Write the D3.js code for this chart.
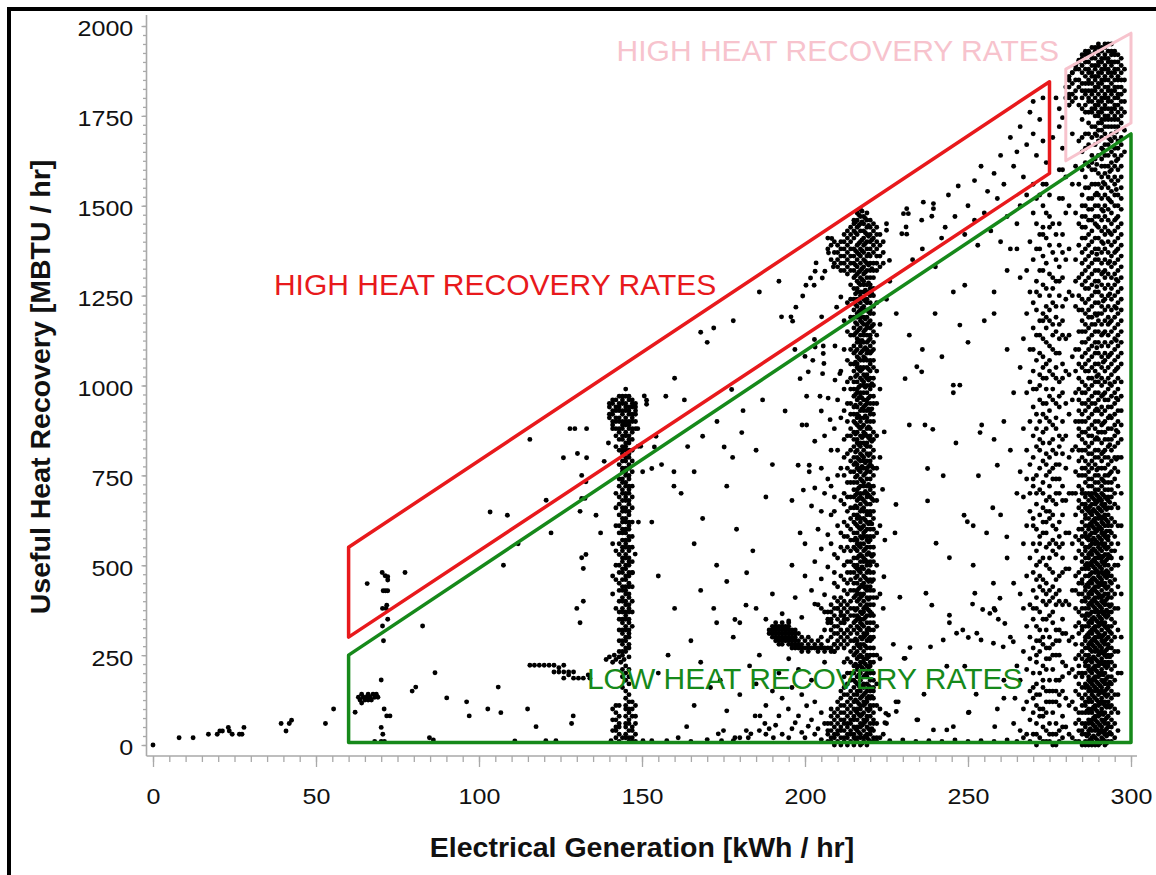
<!DOCTYPE html>
<html><head><meta charset="utf-8">
<script src="https://cdn.jsdelivr.net/npm/d3@7"></script>
<style>body{margin:0;background:#fff}svg{display:block}</style>
</head><body>
<svg id="chart" width="1156" height="875"></svg>
<script>
// ---------------- DATA ----------------
const xTickValues = [0, 50, 100, 150, 200, 250, 300];
const yTickValues = [0, 250, 500, 750, 1000, 1250, 1500, 1750, 2000];
const xTitle = "Electrical Generation [kWh / hr]";
const yTitle = "Useful Heat Recovery [MBTU / hr]";

// region outlines (data coordinates: kWh/hr, MBTU/hr)
const redBox = [[60,550],[275,1845],[275,1590],[60,300]];
const greenBox = [[60,250],[300,1700],[300,7],[60,7]];
const pinkBox = [[280,1625],[280,1880],[300,1980],[300,1730]];
const annoText = ["HIGH HEAT RECOVERY RATES","HIGH HEAT RECOVERY RATES","LOW HEAT RECOVERY RATES"];
const annoAt = [[37.1,1251],[142.2,1904],[133.1,157]];

// scattered points [kWh/hr, MBTU/hr]
const sparseLow = [[0,0],[8,20],[12.3,20],[17,30],[19.7,30],[20.5,39],[21.3,39],[23.1,49],[23.4,39],[24.3,30],[26.5,30],[27.3,30],[27.9,49],[39.3,60],[40.8,39],[41.8,60],[42.5,69],[52.9,60],[55.4,100],[62,91],[70,181],[70.9,100],[71.7,81],[70,49],[70.5,30],[68,10],[70,10],[71,10],[84.8,20],[86,14],[65.7,449],[70.3,480],[71.2,471],[72,468],[72,459],[77.3,480],[70.6,429],[71.3,429],[72,429],[71.7,389],[70.4,380],[71.5,380],[72,350],[70.4,331],[82.7,331],[70.7,290],[86.5,201],[80.6,161],[79.5,150],[90.1,131],[96.2,120],[102.7,100],[105.9,161],[97,81],[72.7,81],[63,133],[63.5,125],[64,141],[64.5,133],[65,125],[65.5,133],[66,141],[66.5,133],[67,125],[67.5,141],[68,133],[68.5,141],[69,133],[66,125],[64,117],[106.7,90],[114.9,100],[117.5,51],[111,11],[120.5,12],[123.6,12],[128.4,60],[128.9,81],[140.5,12]];

const redLeft = [[103.4,648],[108.7,639],[107.5,500],[115.6,850],[120.6,681],[122.1,590],[125.9,799],[127.9,880],[129.4,880],[133,880],[130.2,811],[133,799],[131.5,750],[132.8,732],[131.5,686],[132.5,686],[131,650],[135.9,639],[137.3,590],[139.7,840],[138.4,789],[131.5,521],[132.8,530],[132,491],[132,400],[130,380],[131,340],[112,560]];

const smear = [[115.6,222],[117,222],[118.5,222],[120,222],[121.5,222],[123,222],[124.5,215],[126,222],[123,203],[124.5,203],[126,203],[127.5,203],[129,203],[126,186],[127.5,195],[129,186],[130.5,186],[132,186],[133.5,195],[134,186],[139,238],[140,245],[141,230],[141.5,250],[142,238],[143,245],[143.5,230],[144,250],[144.5,238],[146,245]];

const scatterMid = [[148.7,880],[148.9,831],[149.6,831],[150.7,971],[151.4,959],[151.4,948],[157.3,970],[154.3,859],[153.8,829],[150.2,760],[153,769],[159.8,760],[166,760],[159.8,720],[148.9,620],[153,620],[147.9,531],[147.1,479],[168.6,859],[175.2,829],[177.8,800],[177.5,989],[180.6,869],[168.6,630],[172.9,500],[182.1,479],[181.9,389],[172.9,340],[178.5,349],[180,340],
[224.3,871],[232,890],[236.8,890],[239.2,878],[254.2,890],[253.7,869],[246.3,840],[258,850],[237.6,769],[242.4,749],[253.2,749],[259,778],[223.8,711],[227.9,669],[237.6,679],[257.6,660],[248.8,639],[249.8,621],[251.6,610],[255.7,590],[261.9,579],[227.6,590],[224.5,570],[240.2,561],[244.3,521],[251.6,500],[224.2,468],[237.1,422],[238.9,389],[229.1,411],[252.1,422],[251.4,392],[257.8,450],[259.8,408],[258.3,375],[244.3,361],[244.3,340],[248.4,320],[246.5,311],[242.4,292],[250.1,299],[252.7,311],[254.5,377],[256.7,366],[259.3,350],[261.3,338],[254,292],[257.8,283],[260.8,273],[263.9,287],[227.1,280],[232.2,271],[238.5,273],[230.4,241],[227.9,120],[234.3,70],[250.1,90],[239.4,42],[243.5,42],[245.5,51],[224.8,88],[225,60],[230.7,241],[243.5,219],[249,219],[236.5,141],[228.6,120],[225.6,83],[228,93],[224.5,62],[234.6,70],[250.3,91],[258.2,51],[252.5,141],[261,130],[264.4,130],
[178.5,20],[180,20],[182.6,20],[183.4,31],[182,40],[184.7,81],[186.2,81],[187.7,60],[190.3,20],[192,81],[194.9,100],[198,81],[200.5,109],[173.4,31],[175,40],[174.4,12],[163.7,51],[150.3,12],[153,12],[157.6,12],[161.1,20],[186,40],[188,30],[189,45],[191,55],[193,30],[195,20],[196,45],[197,62],[199,35],[200,20],[201,52],[202,70],[203,30],[204,45],[205,15],[206,60],[205,90],[203,120],[199,140],[196,160],[193,130],[190,150],[188,110],[185,170],[192,200],[198,210],[202,180],[206,230],[195,240],[186,250],[180,140],[176,95],[171,160],[166,110],[183,220],
[165,10],[170,15],[178,12],[222,10],[226,12],[230,14],[234,10],[238,12],[242,10],[246,14],[250,10],[254,12],[258,10],[262,14],[265,10],
[200.5,970],[204.6,970],[207.1,965],[193.9,929],[205,929],[207.7,905],[199.1,890],[200.5,890],[206,860],[203,845],[208,820],[197.9,778],[201.3,778],[201.3,760],[205,770],[207,740],[199.5,709],[203,715],[206,700],[209,690],[196,680],[202,665],[205,650],[208,640],[198.5,590],[204,600],[207,585],[200,560],[205,545],[209,530],[203,510],[196,500],[207,495],[200,470],[205,462],[209,450],[202,430],[206,418],[197,410],[203,392],[185,380],[190,420],[193,365],[188,350],[195,345],[199,355],
[208.2,1409],[207.2,1369],[203.4,1341],[203.1,1318],[206.1,1318],[208.7,1330],[205.3,1299],[201.7,1299],[200.3,1279],[202.8,1279],[199.3,1249],[211,1246],[197.2,1218],[195.7,1191],[196.2,1179],[205.1,1191],[209.7,1218],[202.9,1128],[203.1,1107],[205.6,1110],[209.2,1110],[196.9,1100],[200,1081],[202.4,1070],[205.6,1089],[205.8,1061],[198.5,1019],[201,1038],[205.4,1033],[209.2,1015],[210.7,1033],[192.8,1191],[225,1450],[225,1432],[225.9,1348],[231,1441],[231.2,1421],[229.7,1422],[231.7,1478],[230.2,1478],[231.2,1492],[236.3,1510],[239.4,1506],[239.4,1492],[238.9,1471],[235.8,1460],[241.9,1410],[245.5,1260],[249,1279],[239.9,1200],[247.5,1168],[234.3,1052],[235.8,1038],[230.7,1019],[245.5,1001],[247.5,1001],[245.5,980],
[170,1120],[168,1148],[172,1160],[178,1180],[186,1260],[192,1290],[160,1020],[163,960],[181,930],[187,960],[173,900],[164,830],[156,780],[162,700],[176,720],[185,820],[190,780],[188,690],[179,600],[184,540],[176,455],[168,430],[160,380],[155,470],[166,560],[172,380],[178,300],[165,290],[158,250],[155,200],[168,230],[174,180]];

const redBand = [[244,1530],[247,1555],[250,1500],[252,1570],[254,1610],[256,1540],[258,1590],[260,1640],[261,1560],[263,1690],[264,1610],[265,1650],[266,1720],[267,1580],[268,1670],[269,1760],[270,1700],[270,1790],[271,1640],[272,1740],[273,1680],[273,1800],[274,1620],[243,1440],[246,1470],[249,1420],[252,1460],[255,1480],[253,1390],[257,1430],[259,1520],[262,1470],[266,1500],[268,1530],[270,1560],[233,1350],[236,1380],[240,1330],[226,1290],[225,1240],[228,1200],[232,1140],[236,1100],[242,1080],[250,1120],[255,1180],[258,1260],[262,1320],[265,1380],[260,1400],[277,1800],[278,1770],[279,1745],[278,1720],[276,1690],[279,1660],[258,1200],[262,1100],[264,980],[261,900],[263,820],[265,700],[260,640],[262,520],[264,450],[258,380],[263,300],[265,220],[261,180],[259,100],[264,60],[266,1300],[265,1450],[263,1380],[280,1800],[280,1830],[281,1850],[281,1810],[282,1870],[283,1890],[281,1780],[284,1905],[285,1920],[286,1930]];

// cluster rows near (190-212, 260-400): [MBTU/hr, [kWh/hr ...]]
const blob200 = [[340,[191,193,195]],[330,[190,191,192,193,194,195]],[320,[189,190,191,192,193,194,195,196,197]],[310,[189,190,191,192,193,194,195,196,197,198]],[300,[190,191,192,193,194,195,196,197,199,201]],[290,[191,192,193,194,195,196,197,198,200,202,204]],[280,[192,193,195,196,197,198,199,201,203,205]],[270,[196,197,198,199,200,201,202,203,204,205,206,207,208]],[260,[199,201,204,206,208,209]],[390,[204]],[380,[205,210]],[370,[206,211]],[350,[207,212]],[340,[208,212]],[320,[206,213]],[300,[205]],[290,[207]],[280,[209]]];

// vertical columns: [kWh/hr, [MBTU/hr ...]]
const col145 = [
[140,[910,920,940,950]],
[141,[890,900,920,930,950,960,880,560,470,420,100,70,40]],
[142,[880,900,910,930,940,960,860,830,700,660,610,540,500,460,380,110,90,70,50,40,20]],
[143,[870,880,900,910,930,940,950,970,850,820,780,740,720,690,670,640,610,590,560,530,500,480,450,430,400,370,350,320,290,260,110,80,60,50,30,10]],
[144,[970,960,950,930,920,900,890,880,860,850,830,820,810,790,770,760,740,730,710,700,680,660,650,630,620,600,590,570,550,540,520,510,490,480,460,440,430,410,400,380,370,350,340,320,310,290,280,260,210,190,160,20]],
[145,[990,970,950,940,930,910,900,890,870,860,840,830,820,800,790,770,760,750,730,720,700,690,680,660,650,630,620,600,590,570,560,550,530,520,500,490,470,460,440,430,420,400,390,370,360,350,330,320,300,290,270,260,220,200,180,150,130,110,100,80,60,50,30,20]],
[146,[970,960,940,930,920,900,890,880,860,850,840,820,810,800,780,770,750,740,720,710,700,680,670,650,640,620,610,600,580,570,550,540,520,510,500,480,470,450,440,420,410,390,380,370,350,340,320,310,300,280,270,210,190,170,140,120,100,90,70,60,40,20,10]],
[147,[960,950,940,920,910,900,880,870,850,820,790,760,720,690,660,620,580,550,510,480,440,400,370,330,120,100,80,50,40,20,10]],
[148,[950,940,930,920,900,880,110,80,60,30,10]]];

const col220 = [
[207,[10,30,40,60,340,370,1380,1410]],
[208,[10,20,40,60,80,100,300,320,350,370,390,560,720,1350,1390]],
[209,[0,20,30,50,70,90,260,280,310,330,360,380,410,480,650,880,1340,1370,1400]],
[210,[10,30,40,60,80,100,120,270,290,310,330,350,380,400,440,520,610,750,820,960,1330,1350,1370,1390]],
[211,[0,20,40,50,70,90,110,130,150,280,300,320,340,360,390,410,470,550,590,680,770,910,1040,1320,1340,1360,1380,1400]],
[212,[10,20,40,60,70,90,110,140,160,190,230,270,290,310,340,360,380,400,430,460,500,540,580,620,670,700,750,800,850,930,990,1100,1180,1320,1340,1360,1380,1400,1420]],
[213,[0,20,30,50,60,80,100,120,140,170,200,240,280,300,320,350,370,390,420,450,480,510,550,580,610,650,690,730,770,810,860,900,950,1010,1070,1150,1230,1310,1330,1350,1370,1390,1410,1430]],
[214,[10,30,40,60,70,90,110,130,150,180,200,230,260,290,310,330,360,380,400,430,460,480,510,540,570,600,630,660,690,730,760,790,820,860,880,920,950,990,1020,1060,1100,1140,1190,1240,1280,1320,1340,1360,1380,1400,1420,1440]],
[215,[0,20,30,50,70,80,100,120,140,160,180,200,220,250,270,290,320,340,360,380,410,430,450,480,500,520,550,570,590,620,640,660,690,710,730,760,780,800,830,850,870,900,920,940,970,990,1010,1040,1060,1090,1110,1140,1160,1190,1210,1240,1270,1300,1320,1340,1360,1380,1410,1430,1450,1460]],
[216,[10,20,40,50,70,90,100,120,140,150,170,190,210,220,240,260,280,290,310,330,350,360,380,400,420,430,450,470,490,500,520,540,560,570,590,610,630,640,660,680,700,710,730,750,770,780,800,820,840,850,870,890,910,920,940,960,980,990,1010,1030,1050,1060,1080,1100,1120,1130,1150,1170,1190,1200,1220,1240,1260,1270,1290,1310,1330,1350,1370,1390,1420,1440,1460,1480]],
[217,[0,20,30,50,60,80,100,110,130,150,160,180,200,220,230,250,270,280,300,320,340,350,370,390,410,420,440,460,480,490,510,530,550,560,580,600,620,630,650,670,690,700,720,740,760,770,790,810,830,840,860,880,900,910,930,950,970,980,1000,1020,1040,1050,1070,1090,1110,1120,1140,1160,1180,1190,1210,1230,1250,1260,1280,1300,1320,1340,1360,1380,1400,1430,1450,1470,1490]],
[218,[10,20,40,60,70,90,110,120,140,160,170,190,210,230,240,260,280,300,310,330,350,370,380,400,420,440,450,470,490,510,520,540,560,580,590,610,630,650,660,680,700,720,730,750,770,790,800,820,840,860,870,890,910,930,940,960,980,1000,1010,1030,1050,1070,1080,1100,1120,1140,1150,1170,1190,1210,1220,1240,1260,1280,1290,1310,1330,1350,1370,1390,1410,1430,1450,1470]],
[219,[0,20,30,50,70,80,100,120,130,150,170,190,200,220,240,250,270,290,310,320,340,360,380,390,410,430,440,460,480,500,510,530,550,570,580,600,620,640,650,670,690,700,720,740,760,770,790,810,830,840,860,880,900,910,930,950,960,980,1000,1020,1030,1050,1070,1090,1100,1120,1140,1160,1170,1190,1210,1230,1240,1260,1280,1300,1320,1340,1360,1380,1400,1420,1440,1460,1480]],
[220,[10,30,40,60,80,100,110,130,150,160,180,200,220,230,250,270,290,300,320,340,360,370,390,410,430,440,460,480,500,510,530,550,570,580,600,620,640,650,670,690,710,720,740,760,780,790,810,830,850,860,880,900,920,930,950,970,990,1000,1020,1040,1060,1070,1090,1110,1130,1140,1160,1180,1200,1210,1230,1250,1270,1280,1300,1320,1340,1360,1380,1400,1420,1440,1460]],
[221,[10,20,40,60,70,90,110,130,150,160,180,200,230,250,270,300,320,340,360,390,410,430,460,480,510,530,550,580,600,630,650,680,700,720,750,770,800,820,850,870,900,920,950,970,1000,1020,1050,1070,1100,1120,1150,1170,1200,1220,1250,1270,1300,1320,1340,1370,1390,1410,1430,1450]],
[222,[20,60,110,170,250,330,410,500,590,680,770,860,950,1040,1140,1230,1320,1340,1360,1380,1400,1420,1440]],
[223,[20,100,240,420,610,800,990,1170,1330,1360,1390,1420]],
[224,[30,380,1340,1370,1400]]];

// extra points filling the core of the 220 column
const core220 = [
[215.5,[15,45,95,125,175,225,255,295,345,375,415,465,495,545,575,615,665,695,745,785,815,865,895,945,975,1025,1065,1095,1145,1175,1225,1255,1305,1335,1375,1425,1455]],
[216.5,[35,85,115,165,195,245,275,325,355,405,435,485,525,555,605,635,685,715,765,795,835,885,915,965,995,1045,1075,1125,1155,1205,1235,1285,1315,1365,1395,1445,1475]],
[217.5,[5,55,85,135,165,215,245,295,335,365,415,445,495,525,575,605,655,685,735,775,805,855,885,935,965,1015,1045,1095,1125,1175,1215,1245,1295,1325,1375,1405,1455,1485]],
[218.5,[25,65,115,145,195,225,275,305,355,385,435,465,515,545,595,625,675,705,755,785,835,865,915,945,995,1025,1075,1105,1155,1185,1235,1265,1315,1345,1395,1425,1465]],
[219.5,[15,45,95,135,165,215,245,295,325,375,405,455,485,535,565,615,645,695,725,775,805,855,885,935,965,1015,1045,1095,1125,1175,1205,1255,1285,1335,1365,1415,1445]],
[220.5,[45,135,205,295,365,455,525,615,685,775,845,935,1005,1095,1165,1255,1325,1405]]];

const col273 = [
[266,[40,180,420,760,1050]],
[267,[20,100,260,380,560,690,880,1130]],
[268,[30,120,210,330,470,610,740,820,980,1200,1320]],
[269,[10,70,150,240,300,390,520,650,700,780,900,1010,1100,1260,1400]],
[270,[30,90,130,160,200,270,350,380,430,480,560,610,630,720,740,800,860,940,990,1040,1100,1160,1230,1350,1480]],
[271,[0,30,60,110,140,170,230,250,290,330,380,410,460,500,540,600,670,700,750,830,880,920,990,1070,1140,1210,1260,1290,1380,1450,1520]],
[272,[20,80,100,140,200,260,290,320,370,440,470,510,560,580,640,710,770,820,850,900,960,1000,1030,1090,1140,1180,1250,1320,1380,1420,1530]],
[273,[10,50,80,100,160,180,220,280,300,350,400,430,460,520,590,620,660,700,730,790,840,870,920,950,1020,1050,1080,1130,1180,1200,1280,1320,1360,1420,1440,1500,1560]],
[274,[10,40,90,120,150,210,240,270,320,350,390,420,450,500,550,590,620,650,680,750,780,810,880,910,950,990,1020,1060,1120,1160,1190,1220,1270,1340,1410,1480,1560]],
[275,[10,30,60,120,150,180,240,270,300,360,400,430,490,520,560,630,650,690,720,760,800,840,900,930,970,1040,1070,1110,1180,1210,1250,1310,1390,1440,1470,1530]],
[276,[0,30,90,120,150,210,250,280,340,370,410,440,480,540,570,610,640,680,740,770,820,850,890,960,990,1030,1100,1140,1170,1230,1270,1300,1370,1450]],
[277,[0,30,60,120,150,180,250,290,320,390,420,460,530,560,600,670,700,740,780,810,880,910,950,1020,1050,1090,1150,1190,1220,1290,1350,1420]],
[278,[10,40,110,140,180,250,290,320,400,430,470,550,580,620,700,740,780,830,860,940,970,1010,1090,1130,1170,1250,1290,1330,1390,1450,1520,1600]],
[279,[20,50,80,150,190,230,310,350,390,480,520,560,640,680,720,810,850,900,980,1020,1060,1140,1180,1220,1300,1370,1420,1520,1600]],
[280,[50,130,220,310,400,490,590,680,770,860,950,1040,1130,1240,1350,1480,1580]]];

const col290 = [
[281,[1780,1800,1830,1850,1860,1500,1380,1260,1140,1030,920,800,700,590,490,390,290,200,110,30]],
[282,[1790,1810,1840,1870,1700,1560,1250,1080,960,820,700,560,430,300,210,120,20]],
[283,[1800,1820,1850,1880,1890,1610,1480,1350,1290,1220,1100,1040,980,900,830,760,700,640,580,520,470,430,380,330,280,240,190,150,100,60,10]],
[284,[1780,1830,1850,1880,1900,1680,1560,1450,1390,1300,1250,1210,1150,1100,1060,1020,990,960,930,900,880,860,820,790,750,720,680,660,600,570,540,480,450,420,370,340,310,250,220,200,170,140,90,70,40,10]],
[285,[1770,1800,1820,1840,1870,1890,1910,1740,1690,1650,1600,1530,1500,1470,1440,1410,1370,1340,1310,1280,1240,1210,1180,1150,1120,1080,1050,1010,980,950,920,900,870,850,820,800,770,750,710,700,670,650,620,600,580,560,530,510,490,460,450,420,400,380,360,330,320,280,260,240,200,190,160,130,110,90,60,40,30,0]],
[286,[1760,1780,1810,1820,1840,1860,1880,1900,1920,1700,1660,1620,1580,1550,1500,1470,1440,1410,1380,1350,1320,1290,1270,1230,1200,1170,1150,1120,1090,1060,1040,1000,980,950,930,900,870,840,820,790,770,750,730,700,690,670,660,640,630,610,590,580,550,540,520,500,490,470,440,430,410,400,380,360,350,330,300,290,270,250,230,220,200,170,160,140,120,110,90,60,50,30,10,0]],
[287,[1760,1790,1800,1820,1840,1850,1870,1880,1900,1920,1930,1730,1700,1670,1610,1550,1520,1490,1460,1420,1390,1360,1330,1300,1270,1240,1210,1190,1160,1130,1100,1070,1040,1020,990,960,940,910,880,860,830,810,780,760,740,720,700,680,660,650,630,610,600,580,570,550,530,520,500,490,470,450,440,420,410,390,380,360,340,330,310,300,280,270,250,240,220,210,190,180,160,150,130,120,100,90,70,60,40,30,10,0]],
[288,[1760,1770,1790,1810,1820,1840,1860,1870,1890,1910,1920,1940,1720,1690,1640,1620,1600,1560,1520,1490,1460,1430,1400,1370,1340,1310,1280,1250,1220,1190,1170,1140,1110,1080,1050,1020,1000,970,950,920,890,860,840,810,790,770,740,720,700,690,670,650,640,620,610,590,570,560,540,530,510,500,480,460,450,430,420,400,390,370,350,340,320,310,290,280,260,240,230,210,200,180,170,150,140,120,100,90,70,60,40,20,10,0]],
[289,[1750,1770,1780,1800,1820,1830,1850,1860,1880,1890,1910,1930,1940,1720,1700,1670,1630,1600,1560,1530,1500,1470,1450,1410,1380,1350,1320,1290,1260,1230,1200,1170,1150,1120,1090,1060,1040,1010,980,950,930,900,880,850,820,800,780,750,730,710,700,680,670,650,630,620,600,590,570,560,540,520,510,490,480,460,440,430,410,400,380,370,350,330,320,300,290,270,260,240,220,210,190,180,160,150,130,110,100,80,70,50,40,20,0]],
[290,[1750,1760,1780,1790,1810,1830,1840,1860,1870,1890,1900,1920,1940,1950,1730,1710,1680,1640,1590,1560,1530,1500,1470,1440,1410,1380,1350,1320,1290,1260,1230,1200,1180,1150,1120,1090,1060,1030,1010,980,960,930,900,870,850,820,800,770,750,730,710,690,680,660,640,630,610,600,580,560,550,530,520,500,480,470,450,440,420,410,390,370,360,340,330,310,300,280,260,250,230,220,200,190,170,150,140,120,110,90,80,60,40,30,10,0]],
[291,[1740,1760,1770,1790,1800,1820,1840,1850,1870,1880,1900,1910,1930,1940,1730,1710,1690,1660,1630,1610,1580,1550,1520,1490,1460,1430,1400,1370,1340,1310,1280,1250,1220,1200,1170,1140,1110,1080,1050,1020,1000,970,940,920,890,870,840,810,790,770,740,720,700,680,670,650,630,620,600,590,570,560,540,520,510,490,480,460,450,430,410,400,380,370,350,340,320,300,290,270,260,240,230,210,200,180,160,150,130,120,100,90,70,50,40,20,10]],
[292,[1740,1750,1770,1780,1800,1810,1830,1850,1860,1880,1890,1910,1920,1940,1950,1720,1700,1670,1640,1610,1590,1560,1530,1500,1470,1440,1420,1380,1350,1320,1300,1270,1240,1210,1180,1150,1120,1090,1070,1040,1010,980,960,930,900,870,850,820,800,770,750,730,710,690,670,660,640,630,610,590,580,560,550,530,510,500,480,470,450,440,420,400,390,370,360,340,330,310,290,280,260,250,230,220,200,180,170,150,140,120,110,90,70,60,40,30,10,0]],
[293,[1740,1750,1770,1790,1800,1820,1830,1850,1870,1880,1900,1910,1930,1950,1720,1690,1670,1640,1610,1580,1550,1520,1490,1460,1430,1400,1370,1340,1310,1280,1250,1220,1190,1170,1140,1110,1080,1050,1020,990,960,940,910,880,850,830,800,780,750,730,710,690,680,660,640,620,610,580,570,550,530,520,500,480,470,440,420,410,390,370,360,330,320,300,280,270,250,230,220,190,170,160,140,120,110,80,60,50,30,10]],
[294,[1740,1760,1770,1790,1810,1820,1840,1860,1870,1890,1900,1920,1930,1950,1720,1700,1680,1650,1620,1600,1570,1540,1510,1480,1450,1420,1390,1360,1330,1300,1270,1240,1210,1180,1150,1120,1090,1060,1030,1000,970,940,910,880,850,820,790,760,730,710,690,660,630,610,590,560,540,520,490,470,450,430,410,390,370,350,330,310,290,270,250,230,210,190,170,150,130,110,90,70,50,30,10]],
[295,[1750,1770,1780,1800,1820,1830,1850,1870,1880,1900,1920,1930,1740,1720,1690,1660,1640,1610,1580,1560,1530,1500,1460,1430,1400,1370,1340,1310,1280,1250,1220,1190,1160,1130,1100,1070,1040,1010,980,950,920,890,860,830,800,770,740,700,670,620,580,540,500,460,420,380,340,300,260,220,180,140,100,60,20]],
[296,[1760,1780,1800,1810,1830,1850,1860,1880,1900,1920,1740,1720,1680,1660,1630,1600,1570,1530,1500,1470,1440,1410,1380,1350,1320,1290,1260,1230,1200,1170,1140,1110,1080,1050,1020,990,960,930,900,870,840,800,760,720,660,610,560,500,440,380,320,260,200,140,90,40]],
[297,[1770,1790,1810,1830,1850,1870,1890,1910,1750,1730,1690,1670,1640,1610,1580,1550,1520,1490,1450,1420,1390,1360,1330,1300,1270,1240,1210,1180,1150,1120,1090,1060,1010,970,930,890,850,800,700,610,520,420,300,200]],
[298,[1790,1820,1850,1880,1760,1710,1650]]];

// extra points filling the core of the 290 column
const core290 = [
[286.5,[655,575,505,445,365,305,235,165,95,25]],
[287.5,[695,665,645,615,585,555,535,505,475,455,425,395,365,345,315,285,265,235,205,175,155,125,95,65,45,15]],
[288.5,[685,655,625,605,575,545,515,495,465,435,405,385,355,325,295,275,245,215,185,165,135,105,75,55,25,5]],
[289.5,[1695,1615,1535,1445,1365,1275,1195,1105,1025,935,855,765,695,675,645,615,595,565,535,505,485,455,425,395,375,345,315,285,265,235,205,175,155,125,95,65,45,15]],
[290.5,[685,655,635,605,575,545,525,495,465,445,415,385,355,335,305,275,255,225,195,165,145,115,85,55,35,5]],
[291.5,[1655,1565,1485,1395,1315,1235,1145,1065,975,895,815,735,695,665,635,615,585,555,525,505,475,445,415,395,365,335,305,285,255,225,195,175,145,115,85,65,35,15]],
[292.5,[685,655,625,595,575,545,515,485,465,435,405,375,355,325,295,265,245,215,185,155,135,105,75,45,25,5]],
[293.5,[1685,1595,1515,1425,1345,1255,1175,1085,1005,915,835,755,675,595,525,455,385,315,245,175,105,35]],
[295.5,[1705,1625,1545,1465,1375,1295,1215,1125,1045,965,875,795]]];

// ---------------- DRAWING ----------------
const svg = d3.select("#chart");
const W = 1156, H = 875;
const x = d3.scaleLinear().domain([0, 300]).range([153, 1131]);
const y = d3.scaleLinear().domain([0, 2000]).range([745, 26]);
const axisX = 146.5, axisY = 756;
const font = "'Liberation Sans', Arial, Helvetica, sans-serif";
const axisColor = "#a9a9a9";
const tickStretch = 1.14;

svg.append("rect").attr("width", W).attr("height", H).attr("fill", "#fff");

// flatten helpers
const fromCols = list => list.flatMap(([xv, ys]) => ys.map(yv => [xv, yv]));
const fromRows = list => list.flatMap(([yv, xs]) => xs.map(xv => [xv, yv]));
const points = [].concat(sparseLow, redLeft, smear, scatterMid, redBand,
  fromRows(blob200), fromCols(col145), fromCols(col220), fromCols(core220),
  fromCols(col273), fromCols(col290), fromCols(core290));

// axes
const gx = svg.append("g").attr("transform", `translate(0,${axisY})`);
gx.call(d3.axisBottom(x).tickValues(d3.range(0, 301, 5)).tickSize(6).tickFormat(""));
gx.select(".domain").remove();
const gx2 = svg.append("g").attr("transform", `translate(0,${axisY})`);
gx2.call(d3.axisBottom(x).tickValues(xTickValues).tickSize(11).tickPadding(21).tickFormat(d3.format("d")));
gx2.select(".domain").remove();
[gx, gx2].forEach(g => g.selectAll("line").attr("stroke", axisColor).attr("stroke-width", 1.3));
gx2.selectAll("text").attr("font-family", font).attr("font-size", 22).attr("fill", "#111")
  .attr("transform", `scale(${tickStretch},1)`);

const gy = svg.append("g").attr("transform", `translate(${axisX},0)`);
gy.call(d3.axisLeft(y).tickValues(d3.range(0, 2001, 25)).tickSize(3.5).tickFormat(""));
gy.select(".domain").remove();
const gy2 = svg.append("g").attr("transform", `translate(${axisX},0)`);
gy2.call(d3.axisLeft(y).tickValues(yTickValues).tickSize(5).tickPadding(8).tickFormat(d3.format("d")));
gy2.select(".domain").remove();
[gy, gy2].forEach(g => g.selectAll("line").attr("stroke", axisColor).attr("stroke-width", 1.3));
gy2.selectAll("text").attr("font-family", font).attr("font-size", 22).attr("fill", "#111")
  .attr("dy", "0.45em").attr("x", -13.2 / tickStretch).attr("transform", `scale(${tickStretch},1)`);

svg.append("line").attr("x1", axisX).attr("x2", axisX).attr("y1", 15).attr("y2", axisY)
  .attr("stroke", axisColor).attr("stroke-width", 1.6);
svg.append("line").attr("x1", axisX).attr("x2", 1137).attr("y1", axisY).attr("y2", axisY)
  .attr("stroke", axisColor).attr("stroke-width", 1.6);

// titles
svg.append("text").attr("x", 642).attr("y", 857).attr("text-anchor", "middle")
  .attr("font-family", font).attr("font-weight", "bold").attr("font-size", 28.5).attr("fill", "#111").text(xTitle);
svg.append("text").attr("transform", "translate(50,387) rotate(-90)").attr("text-anchor", "middle")
  .attr("font-family", font).attr("font-weight", "bold").attr("font-size", 28.5).attr("fill", "#111").text(yTitle);

// points
svg.append("g").selectAll("circle").data(points).join("circle")
  .attr("cx", d => x(d[0])).attr("cy", d => y(d[1])).attr("r", 2.45).attr("fill", "#000");

// region outlines
const line = d3.line().x(d => x(d[0])).y(d => y(d[1]));
const boxes = [[pinkBox, "#f7c3cd", 3], [greenBox, "#16891a", 3.5], [redBox, "#e8191c", 3.5]];
boxes.forEach(([pts, col, w]) => {
  svg.append("path").attr("d", line(pts) + "Z").attr("fill", "none")
    .attr("stroke", col).attr("stroke-width", w).attr("stroke-linejoin", "round");
});

// annotation labels
const annoColors = ["#e8191c", "#f7c3cd", "#16891a"];
svg.append("g").selectAll("text").data(annoText).join("text")
  .attr("x", (d, i) => x(annoAt[i][0])).attr("y", (d, i) => y(annoAt[i][1]))
  .attr("font-family", font).attr("font-size", 30).attr("fill", (d, i) => annoColors[i]).text(d => d);

// outer frame
svg.append("rect").attr("x", 9).attr("y", 9).attr("width", 1200).attr("height", 900)
  .attr("fill", "none").attr("stroke", "#000").attr("stroke-width", 4);
</script>
</body></html>
